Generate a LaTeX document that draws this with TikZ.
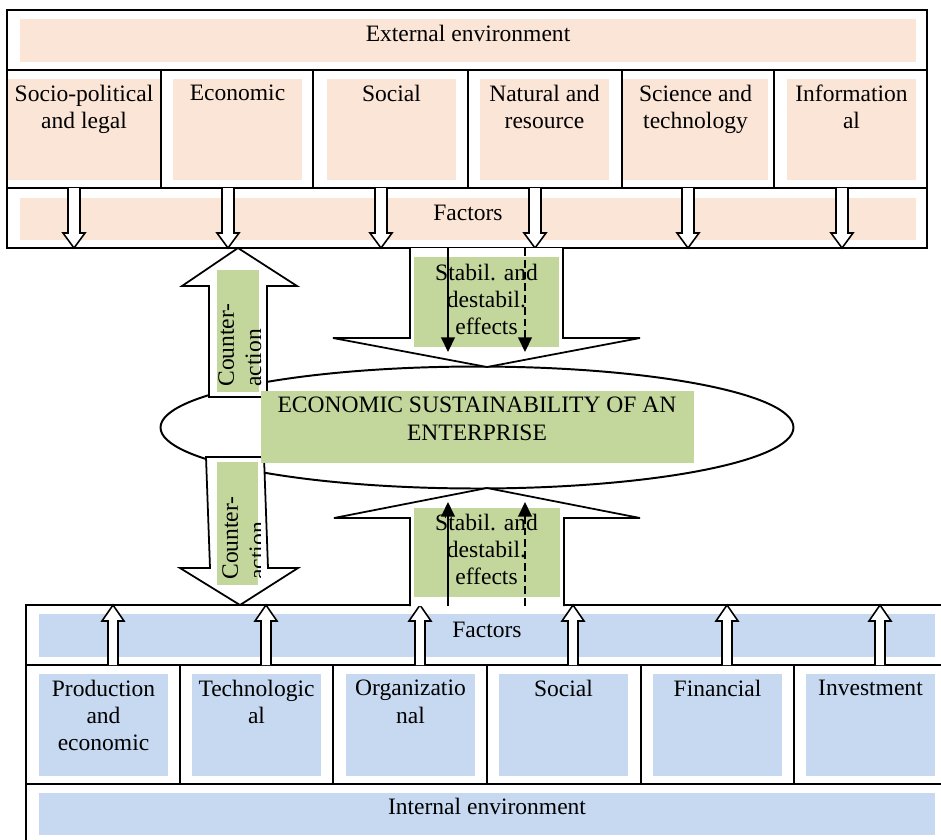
\documentclass[tikz,border=0pt]{standalone}
\usepackage{fontspec}
\setmainfont{Liberation Serif}
\usetikzlibrary{arrows.meta,shapes.geometric}
\definecolor{extfill}{HTML}{FBE5D6}
\definecolor{intfill}{HTML}{C6D9F1}
\definecolor{midfill}{HTML}{C3D69B}

\begin{document}
\begin{tikzpicture}[x=0.51pt,y=-0.51pt,
			blockline/.style={line width=1pt},
			hollowarr/.style={draw, fill=white, line width=0.8pt, line join=miter},
			bigarr/.style={draw, fill=white, line width=0.9pt, line join=miter},
			txt/.style={font=\fontsize{12pt}{13.8pt}\selectfont, inner sep=0pt, align=center},
			fx/.style={line width=1pt, -{Triangle[width=7pt,length=7.5pt]}}]
			\useasboundingbox (0,0) rectangle (941,839);
			% external environment
			\fill[extfill] (20,19) rectangle (916,62);
			\foreach \a/\b in {8/160,173/302,327/456,480/609,623/768,787/916}
				\fill[extfill] (\a,79) rectangle (\b,180);
			\fill[extfill] (20,198) rectangle (916,240);
			\draw[blockline] (7,10) rectangle (927,248);
			\draw[blockline] (7,70) -- (927,70) (7,188) -- (927,188);
			\foreach \x in {161,313,468,622,774}
				\draw[blockline] (\x,70) -- (\x,188);
			% internal environment
			\fill[intfill] (39,614) rectangle (935,657);
			\foreach \a/\b in {39/168,192/321,346/475,499/628,653/782,806/935}
				\fill[intfill] (\a,674) rectangle (\b,776);
			\fill[intfill] (39,793) rectangle (935,835);
			\draw[blockline] (26,605) rectangle (948,850);
			\draw[blockline] (26,665) -- (948,665) (26,784) -- (948,784);
			\foreach \x in {180,333,487,641,794}
				\draw[blockline] (\x,665) -- (\x,784);
			% small arrows
			\foreach \x in {74,228,381,535,688,842}
				\draw[hollowarr] (\x-6,188) -- (\x-6,233) -- (\x-11,233) -- (\x,248)
					-- (\x+11,233) -- (\x+6,233) -- (\x+6,188);
			\foreach \x in {113,266,420,573,727,880}
				\draw[hollowarr] (\x-5,665) -- (\x-5,621) -- (\x-11,621) -- (\x,605)
					-- (\x+11,621) -- (\x+5,621) -- (\x+5,665);
			% enterprise
			\node[draw, ellipse, line width=1pt, minimum width=322.8pt, minimum height=62.2pt,
				inner sep=0pt] (esust) at (477,427.5) {};
			% big arrows
			\draw[bigarr] (410,248) -- (410,338) -- (333,338) -- (487,367)
				-- (640,338) -- (563,338) -- (563,248);
			\draw[bigarr] (410,606) -- (410,518) -- (334,518) -- (487,488)
				-- (640,518) -- (564,518) -- (564,606);
			\draw[bigarr] (209,397) -- (209,286) -- (182,286) -- (238,248)
				-- (297,286) -- (267,286) -- (267,397) -- cycle;
			\draw[bigarr] (206,457) -- (210,568) -- (180,568) -- (240,605)
				-- (298,568) -- (268,568) -- (264,457) -- cycle;
			\fill[midfill] (414,257) rectangle (559,347);
			\fill[midfill] (414,508) rectangle (560,597);
			\fill[midfill] (217,270) rectangle (259,392);
			\fill[midfill] (217,462) rectangle (258,585);
			\fill[midfill] (261,391) rectangle (694,463);
			% texts
			\node[txt, anchor=base] (ext) at (468,41.5) {External environment};
			\node[txt, anchor=north] (sopol) at (84,84.5) {Socio-political\\and legal};
			\node[txt, anchor=north] (econ) at (237.5,84.5) {Economic};
			\node[txt, anchor=north] (socx) at (391.5,84.5) {Social};
			\node[txt, anchor=north] (natr) at (544.5,84.5) {Natural and\\resource};
			\node[txt, anchor=north] (scit) at (695.5,84.5) {Science and\\technology};
			\node[txt, anchor=north] (info) at (851.5,84.5) {Information\\al};
			\node[txt, anchor=base] (extfac) at (468,220) {Factors};
			\node[txt, anchor=north] (effup) at (486.5,264) {Stabil. and\\destabil.\\effects};
			\node[txt, anchor=north] (core) at (477,397) {ECONOMIC SUSTAINABILITY OF AN\\ENTERPRISE};
			\node[txt, anchor=north] (effdn) at (486.5,514) {Stabil. and\\destabil.\\effects};
			\node[txt, rotate=90, anchor=north west, align=left] (cntup) at (218,387) {Counter-\\action};
			\begin{scope}
				\clip (206,457) rectangle (260,590);
				\node[txt, rotate=90, anchor=north west, align=left] (cntdn) at (222,580) {Counter-\\action};
			\end{scope}
			\node[txt, anchor=base] (intfac) at (487,637) {Factors};
			\node[txt, anchor=north] (prod) at (103.5,680) {Production\\and\\economic};
			\node[txt, anchor=north] (tech) at (256.5,680) {Technologic\\al};
			\node[txt, anchor=north] (orgn) at (410.5,680) {Organizatio\\nal};
			\node[txt, anchor=north] (soci) at (563.5,680) {Social};
			\node[txt, anchor=north] (fina) at (717.5,680) {Financial};
			\node[txt, anchor=north] (inve) at (870.5,680) {Investment};
			\node[txt, anchor=base] (int) at (487,814) {Internal environment};
			% effects
			\coordinate (us) at (448,248);
			\coordinate (ue) at (448,352);
			\coordinate (uds) at (525,248);
			\coordinate (ude) at (525,352);
			\coordinate (ls) at (448,606);
			\coordinate (le) at (448,502);
			\coordinate (lds) at (525,606);
			\coordinate (lde) at (525,502);
			\draw[fx] (us) -- (ue);
			\draw[fx, dash pattern=on 4pt off 2pt] (uds) -- (ude);
			\draw[fx] (ls) -- (le);
			\draw[fx, dash pattern=on 4pt off 2pt] (lds) -- (lde);
		\end{tikzpicture}
\end{document}
